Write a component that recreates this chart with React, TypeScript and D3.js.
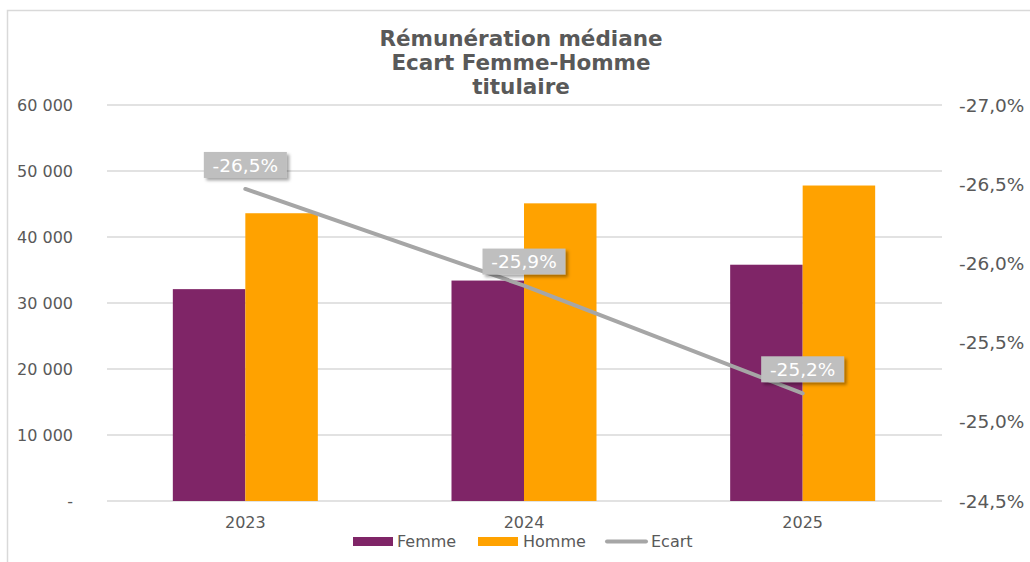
import React from "react";
import * as d3 from "d3";

const years = ["2023", "2024", "2025"];
const femme = [32100, 33400, 35800];
const homme = [43600, 45100, 47800];
const ecart = [-26.47, -25.86, -25.18];
const ecartLabels = ["-26,5%", "-25,9%", "-25,2%"];
const leftTicks = [0, 10000, 20000, 30000, 40000, 50000, 60000];
const rightTicks = [-27, -26.5, -26, -25.5, -25, -24.5];
const titleLines = ["Rémunération médiane", "Ecart Femme-Homme", "titulaire"];

const W = 1030, H = 562;
const plotL = 106, plotR = 942, plotT = 105, plotB = 501;
const FONT = "'DejaVu Sans', Verdana, sans-serif";
const TXT = "#595959";
const C_F = "#7F2567";
const C_H = "#FFA200";
const C_L = "#A6A6A6";

const fmtLeft = (v: number) => (v === 0 ? "-" : d3.format(",")(v).replace(/,/g, " "));
const fmtRight = (v: number) => v.toFixed(1).replace(".", ",") + "%";

export default function App() {
  const x = d3.scaleBand<string>().domain(years).range([plotL, plotR]).paddingInner(0).paddingOuter(0);
  const yL = d3.scaleLinear().domain([0, 60000]).range([plotB, plotT]);
  const yR = d3.scaleLinear().domain([-24.5, -27]).range([plotB, plotT]);
  const bw = 72.5;
  const line = d3.line<number>()
    .x((_, i) => x(years[i])! + x.bandwidth() / 2)
    .y((d) => yR(d));

  return (
    <svg width={W} height={H} style={{ position: "absolute", left: 0, top: 0 }} fontFamily={FONT}>
      <defs>
        <filter id="sh" x="-20%" y="-30%" width="150%" height="180%">
          <feDropShadow dx="2.5" dy="2.5" stdDeviation="1.5" floodColor="#000" floodOpacity="0.35" />
        </filter>
      </defs>
      <rect x={0} y={0} width={W} height={H} fill="#fff" />
      <rect x={7.5} y={10.5} width={1040} height={600} fill="none" stroke="#d9d9d9" strokeWidth={1.5} />
      {titleLines.map((t, i) => (
        <text key={t} x={521} y={46 + i * 23.8} textAnchor="middle" fontSize={21.5} fontWeight="bold" fill={TXT}>
          {t}
        </text>
      ))}
      {leftTicks.map((t) => (
        <g key={t}>
          <line x1={plotL + 1} x2={plotR} y1={yL(t)} y2={yL(t)} stroke="#d9d9d9" strokeWidth={1.3} />
          <text x={73} y={yL(t) + 5.5} textAnchor="end" fontSize={16} fill={TXT}>{fmtLeft(t)}</text>
        </g>
      ))}
      {rightTicks.map((t) => (
        <text key={t} x={959} y={yR(t) + 6.5} textAnchor="start" fontSize={18.5} fill={TXT}>{fmtRight(t)}</text>
      ))}
      {years.map((yr, i) => {
        const cx = x(yr)! + x.bandwidth() / 2;
        return (
          <g key={yr}>
            <rect x={cx - bw} y={yL(femme[i])} width={bw} height={plotB - yL(femme[i])} fill={C_F} />
            <rect x={cx} y={yL(homme[i])} width={bw} height={plotB - yL(homme[i])} fill={C_H} />
            <text x={cx} y={527.5} textAnchor="middle" fontSize={16} fill={TXT}>{yr}</text>
          </g>
        );
      })}
      <path d={line(ecart)!} fill="none" stroke={C_L} strokeWidth={4} strokeLinecap="round" />
      {ecart.map((v, i) => {
        const cx = x(years[i])! + x.bandwidth() / 2;
        const cy = yR(v) - 24;
        return (
          <g key={i}>
            <rect x={cx - 41.5} y={cy - 13} width={83} height={26} fill="#BFBFBF" filter="url(#sh)" />
            <text x={cx} y={cy + 6.8} textAnchor="middle" fontSize={18.5} fill="#fff">{ecartLabels[i]}</text>
          </g>
        );
      })}
      <g fontSize={16} fill={TXT}>
        <rect x={353} y={537} width={40} height={9} fill={C_F} />
        <text x={397} y={546.7}>Femme</text>
        <rect x={478} y={537} width={40} height={9} fill={C_H} />
        <text x={523} y={546.7}>Homme</text>
        <line x1={607} x2={646} y1={541.5} y2={541.5} stroke={C_L} strokeWidth={4} strokeLinecap="round" />
        <text x={651} y={546.7}>Ecart</text>
      </g>
    </svg>
  );
}
